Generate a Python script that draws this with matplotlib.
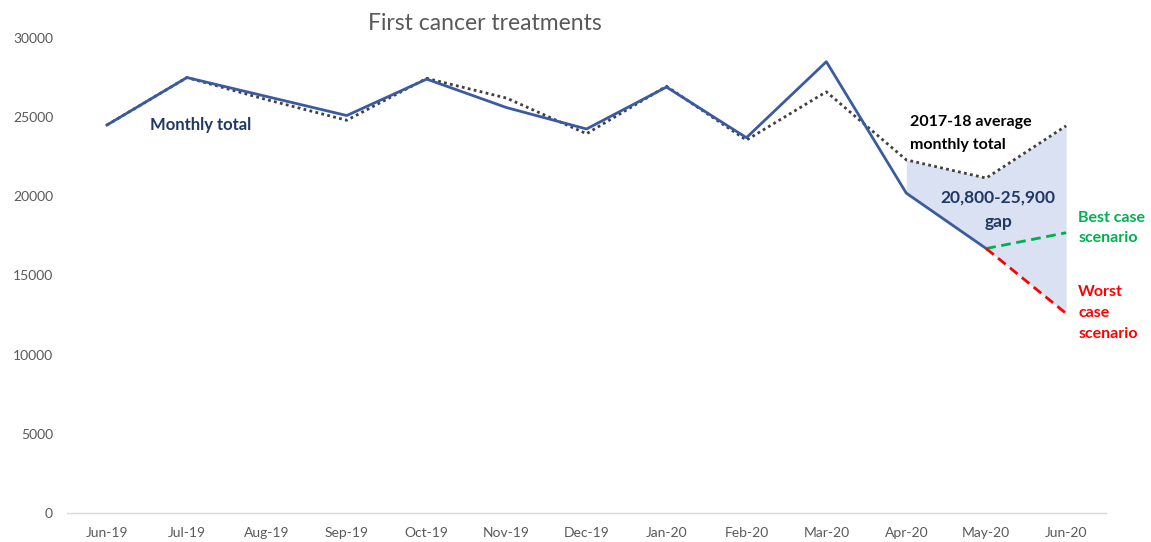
import matplotlib.pyplot as plt

plt.rcParams["font.family"] = ["Lato", "DejaVu Sans"]

months = ["Jun-19", "Jul-19", "Aug-19", "Sep-19", "Oct-19", "Nov-19", "Dec-19",
          "Jan-20", "Feb-20", "Mar-20", "Apr-20", "May-20", "Jun-20"]
monthly_total = [24500, 27500, 26300, 25100, 27400, 25600, 24250, 26900, 23700,
                 28500, 20200, 16700]
avg_2017_18 = [24500, 27500, 26100, 24800, 27450, 26200, 23950, 26950, 23550,
               26600, 22300, 21150, 24450]
best_case = [16700, 17700]
worst_case = [16700, 12600]
yticks = [0, 5000, 10000, 15000, 20000, 25000, 30000]

NAVY = "#203864"
LINE = "#3A5BA0"
GREY = "#595959"

fig = plt.figure(figsize=(11.51, 5.42), dpi=100)
ax = fig.add_axes([0.0582, 0.0535, 0.9028, 0.8765])

x = list(range(len(months)))
n = len(monthly_total)

# gap area: Apr-20 to Jun-20, between average and actual / worst case
gap_x = x[10:13]
gap_top = avg_2017_18[10:13]
gap_bottom = monthly_total[10:12] + worst_case[1:]
ax.fill_between(gap_x, gap_bottom, gap_top, color="#D9E1F2", linewidth=0, zorder=1)

ax.plot(x, avg_2017_18, color="#404040", linestyle=(0, (1, 1.2)), linewidth=2, zorder=2)
ax.plot(x[:n], monthly_total, color=LINE, linewidth=2, zorder=3)
ax.plot(x[11:13], best_case, color="#00B050", linestyle=(0, (3.5, 2)), linewidth=2, zorder=3)
ax.plot(x[11:13], worst_case, color="#FF0000", linestyle=(0, (3.5, 2)), linewidth=2, zorder=3)

ax.set_xlim(-0.5, len(months) - 0.5)
ax.set_ylim(0, 30000)
ax.set_xticks(x)
ax.set_xticklabels(months)
ax.set_yticks(yticks)
ax.set_yticklabels([str(v) for v in yticks])
ax.tick_params(axis="both", length=0, colors=GREY, labelsize=10)
ax.tick_params(axis="x", pad=10)
ax.tick_params(axis="y", pad=10)
for side in ["top", "right", "left"]:
    ax.spines[side].set_visible(False)
ax.spines["bottom"].set_color("#D9D9D9")
ax.spines["bottom"].set_linewidth(1)

fig.text(485 / 1151, 1 - 24 / 542, "First cancer treatments", ha="center", va="center",
         fontsize=16.5, color=GREY)

ax.text(0.54, 24500, "Monthly total", color=NAVY, fontsize=12, fontweight="bold",
        va="center", ha="left")
ax.text(10.05, 23970, "2017-18 average\nmonthly total", color="black", fontsize=11.5,
        fontweight="bold", va="center", ha="left", linespacing=1.85)
ax.text(11.15, 19170, "20,800-25,900\ngap", color=NAVY, fontsize=12.5,
        fontweight="bold", va="center", ha="center", linespacing=1.65)
ax.text(12.15, 18000, "Best case\nscenario", color="#00B050", fontsize=11.5,
        fontweight="bold", va="center", ha="left", linespacing=1.62)
ax.text(12.15, 12630, "Worst\ncase\nscenario", color="#FF0000", fontsize=11.5,
        fontweight="bold", va="center", ha="left", linespacing=1.66)

fig.savefig("out.png", dpi=100)
